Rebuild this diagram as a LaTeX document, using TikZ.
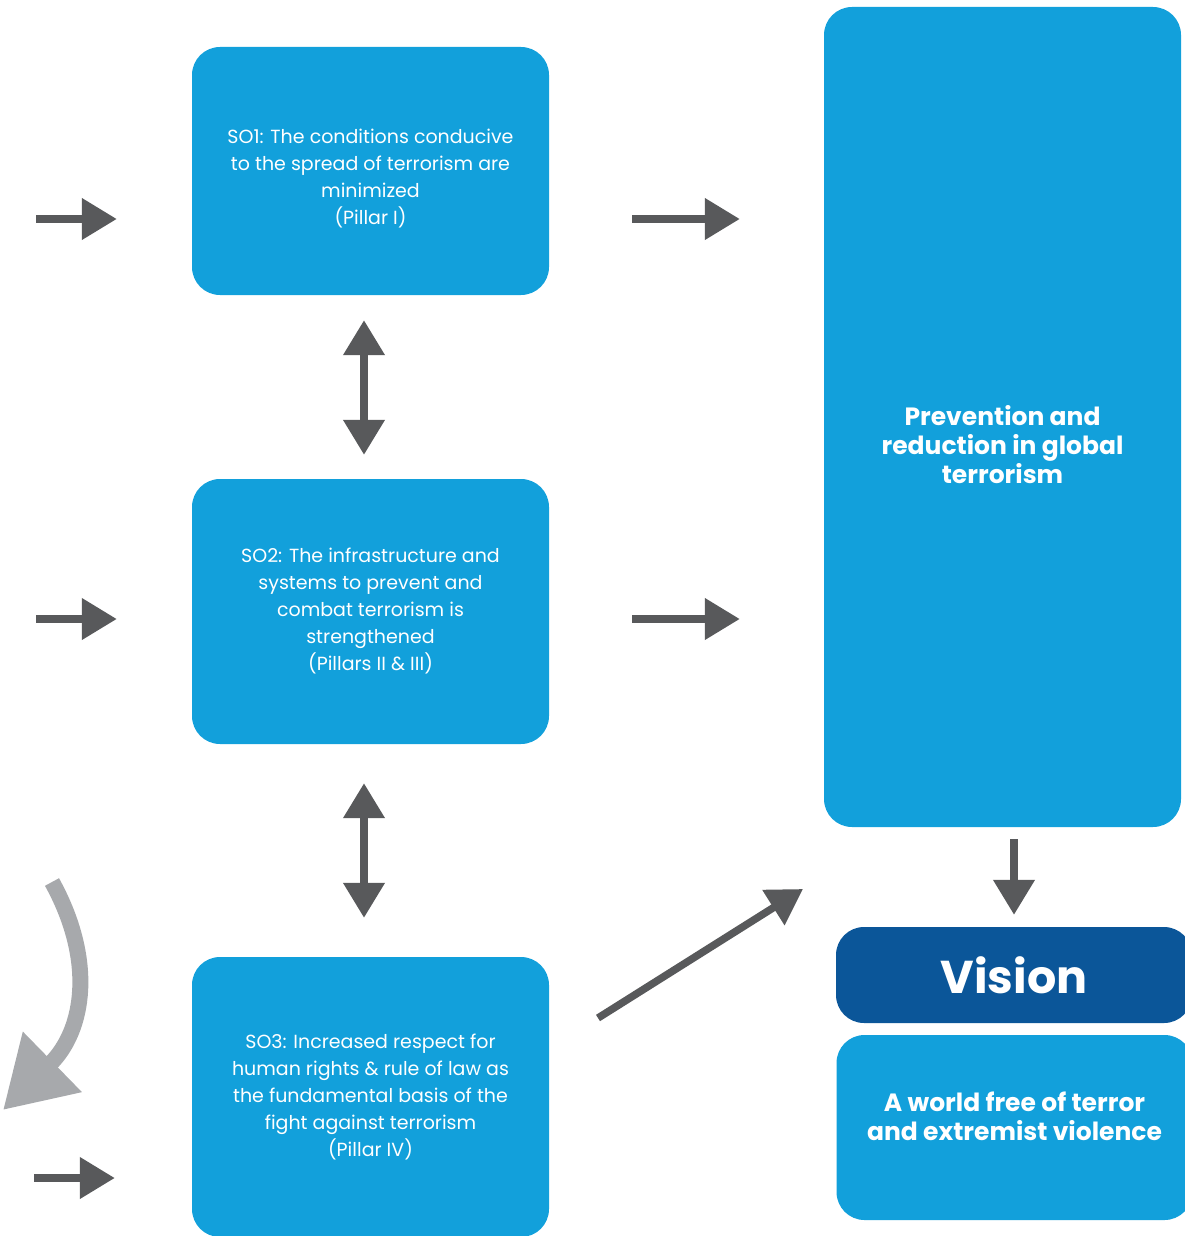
\documentclass[tikz,border=0pt]{standalone}
\usepackage{fontspec}
\setmainfont{Poppins}
\usetikzlibrary{arrows.meta}
\definecolor{soblue}{HTML}{12A0DB}
\definecolor{visionblue}{HTML}{0B5699}
\definecolor{arrowgray}{HTML}{58595B}
\definecolor{lightgray}{HTML}{A7A9AC}
\tikzset{
  sobox/.style={fill=soblue, rounded corners=28pt, inner sep=0pt, text=white, align=center,
    minimum width=357pt, font=\fontsize{19}{27}\selectfont},
  bigtext/.style={text=white, align=center, font=\fontsize{25}{29}\selectfont\bfseries},
  garrow/.style={draw=arrowgray, line width=7.5pt, -{Triangle[length=35pt,width=40pt]}},
  gdouble/.style={draw=arrowgray, line width=7.5pt, {Triangle[length=35pt,width=40pt]}-{Triangle[length=35pt,width=40pt]}}
}
\begin{document}
\begin{tikzpicture}[x=1pt, y=-1pt]
\useasboundingbox (0,0) rectangle (1184,1236);
% objectives
\node[sobox, minimum height=248pt] (so1) at (370.5,171) {\raisebox{-8pt}[\height][\depth]{\begin{tabular}{@{}c@{}}SO1: The conditions conducive\\to the spread of terrorism are\\minimized\\(Pillar I)\end{tabular}}};
\node[sobox, minimum height=265pt] (so2) at (370.5,611.5) {SO2: The infrastructure and\\systems to prevent and\\combat terrorism is\\strengthened\\(Pillars II \& III)};
\node[sobox, minimum height=280pt] (so3) at (370.5,1097) {SO3: Increased respect for\\human rights \& rule of law as\\the fundamental basis of the\\fight against terrorism\\(Pillar IV)};
% outcome and vision
\node[sobox, minimum width=357pt, minimum height=820pt] (prev) at (1002.5,417) {};
\node[bigtext] at ([yshift=-28pt]prev.center) {Prevention and\\reduction in global\\terrorism};
\node[fill=visionblue, rounded corners=28pt, minimum width=356pt, minimum height=96pt, inner sep=0pt,
  text=white, font=\fontsize{46}{50}\selectfont\bfseries] (vision) at (1014,975) {Vision};
\node[sobox, minimum width=356pt, minimum height=185pt] (world) at (1014.5,1127.5) {};
\node[bigtext] at ([yshift=11pt]world.center) {A world free of terror\\and extremist violence};
% arrows
\coordinate (l1) at (36,219);
\coordinate (l2) at (36,619);
\coordinate (l3) at (34,1178);
\draw[garrow, shorten >=75pt] (l1) -- (l1 -| so1.west);
\draw[garrow, shorten >=75pt] (l2) -- (l2 -| so2.west);
\draw[garrow, shorten >=77pt] (l3) -- (l3 -| so3.west);
\draw[garrow, shorten <=83pt, shorten >=84pt] (l1 -| so1.east) -- (l1 -| prev.west);
\draw[garrow, shorten <=83pt, shorten >=84pt] (l2 -| so2.east) -- (l2 -| prev.west);
\draw[gdouble, shorten <=25pt, shorten >=24pt] ([xshift=-6.5pt]so1.south) -- ([xshift=-6.5pt]so2.north);
\draw[gdouble, shorten <=39pt, shorten >=39pt] ([xshift=-6.5pt]so2.south) -- ([xshift=-6.5pt]so3.north);
\draw[garrow, shorten <=12pt, shorten >=12pt] (vision.north |- prev.south) -- (vision.north);
\coordinate (d1) at (598,1018);
\coordinate (d2) at (803,889);
\draw[garrow] (d1) -- (d2);
\coordinate (c1) at (52,882);
\coordinate (c2) at (3,1110);
\draw[draw=lightgray, line width=16pt, -{Triangle[length=69pt,width=80pt]}]
  (c1) .. controls (95,960) and (85,1030) .. (c2);
\end{tikzpicture}
\end{document}
